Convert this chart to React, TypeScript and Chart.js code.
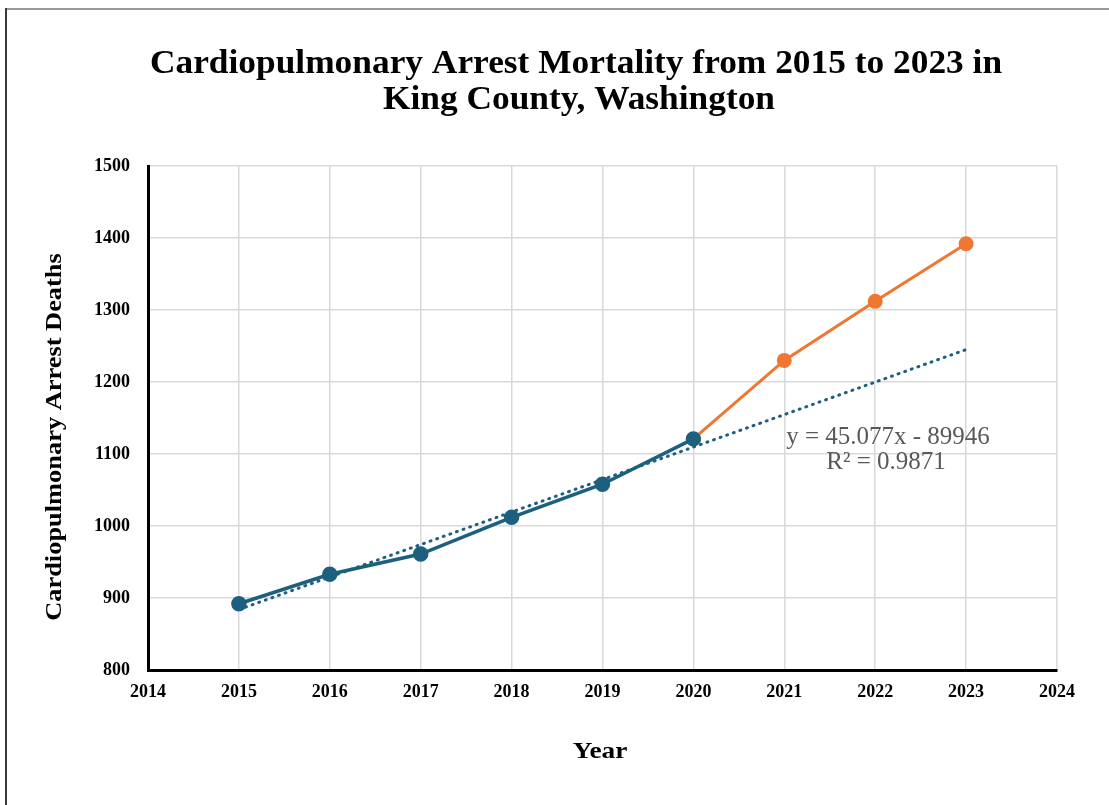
import React, { useEffect, useRef } from "react";
import { Chart, registerables } from "chart.js";

Chart.register(...registerables);

const titleLines = ["Cardiopulmonary Arrest Mortality from 2015 to 2023 in", "King County, Washington"];
const xAxisTitle = "Year";
const yAxisTitle = "Cardiopulmonary Arrest Deaths";
const trendLabel = "y = 45.077x - 89946";
const r2Label = "R² = 0.9871";

const blueYears = [2015, 2016, 2017, 2018, 2019, 2020];
const blueDeaths = [892, 933, 961, 1012, 1058, 1121];
const orangeYears = [2020, 2021, 2022, 2023];
const orangeDeaths = [1121, 1230, 1312, 1392];
const trendYears = [2015, 2023];
const trendDeaths = [884, 1245];

const xMin = 2014;
const xMax = 2024;
const yMin = 800;
const yMax = 1500;

const BLUE = "#1d5f7f";
const ORANGE = "#ef7732";
const SERIF = "'Liberation Serif', 'Times New Roman', serif";

function drawText(ctx: any, text: string, x: number, y: number, sx: number, rot = 0) {
  ctx.save();
  ctx.translate(x, y);
  if (rot) ctx.rotate(rot);
  ctx.scale(sx, 1);
  ctx.fillText(text, 0, 0);
  ctx.restore();
}

const textPlugin = {
  id: "textPlugin",
  beforeDraw(chart: any) {
    const ctx = chart.ctx;
    ctx.save();
    ctx.fillStyle = "#ffffff";
    ctx.fillRect(0, 0, chart.width, chart.height);
    ctx.fillStyle = "#9a9a9a";
    ctx.fillRect(5, 8, chart.width - 5, 2);
    ctx.fillStyle = "#3a3a3a";
    ctx.fillRect(5, 8, 2, chart.height - 8);
    ctx.restore();
  },
  afterDraw(chart: any) {
    const ctx = chart.ctx;
    ctx.save();
    ctx.fillStyle = "#000000";
    ctx.textAlign = "center";
    ctx.textBaseline = "middle";
    ctx.font = `bold 34px ${SERIF}`;
    drawText(ctx, titleLines[0], 576, 64, 1.04);
    drawText(ctx, titleLines[1], 579, 100, 1.04);

    ctx.font = `bold 24px ${SERIF}`;
    drawText(ctx, xAxisTitle, 600, 752, 1.14);
    drawText(ctx, yAxisTitle, 55, 437, 1.1, -Math.PI / 2);

    ctx.fillStyle = "#595959";
    ctx.font = `25px ${SERIF}`;
    drawText(ctx, trendLabel, 888, 437, 1.0);
    drawText(ctx, r2Label, 886, 462, 1.0);
    ctx.restore();
  },
};

export default function App() {
  const ref = useRef<HTMLCanvasElement>(null);
  useEffect(() => {
    if (!ref.current) return;
    const chart = new Chart(ref.current, {
      type: "line",
      data: {
        datasets: [
          {
            label: "Trend",
            data: trendYears.map((x, i) => ({ x, y: trendDeaths[i] })),
            borderColor: BLUE,
            borderWidth: 3,
            borderDash: [1, 6],
            borderCapStyle: "round",
            pointRadius: 0,
            fill: false,
          },
          {
            label: "2015-2020",
            data: blueYears.map((x, i) => ({ x, y: blueDeaths[i] })),
            borderColor: BLUE,
            backgroundColor: BLUE,
            borderWidth: 3.5,
            pointRadius: 6,
            pointBackgroundColor: BLUE,
            pointBorderColor: BLUE,
            fill: false,
          },
          {
            label: "2020-2023",
            data: orangeYears.map((x, i) => ({ x, y: orangeDeaths[i] })),
            borderColor: ORANGE,
            backgroundColor: ORANGE,
            borderWidth: 3,
            pointRadius: (c: any) => (c.dataIndex === 0 ? 0 : 6),
            pointBackgroundColor: ORANGE,
            pointBorderColor: ORANGE,
            fill: false,
          },
        ],
      },
      options: {
        responsive: false,
        animation: false,
        layout: { padding: { left: 0, right: 52, top: 166, bottom: 0 } },
        plugins: { legend: { display: false }, tooltip: { enabled: false }, title: { display: false } },
        scales: {
          x: {
            type: "linear",
            min: xMin,
            max: xMax,
            afterFit: (s: any) => {
              s.height = 135;
            },
            ticks: {
              stepSize: 1,
              callback: (v: any) => String(v),
              color: "#000",
              font: { family: SERIF, size: 18, weight: "bold" },
              padding: 12,
              maxRotation: 0,
            },
            grid: { color: "#d9d9d9", lineWidth: 1.5, drawTicks: false },
            border: { color: "#000", width: 3 },
          },
          y: {
            type: "linear",
            min: yMin,
            max: yMax,
            afterFit: (s: any) => {
              s.width = 148;
            },
            ticks: {
              stepSize: 100,
              callback: (v: any) => String(v),
              color: "#000",
              font: { family: SERIF, size: 18, weight: "bold" },
              padding: 18,
            },
            grid: { color: "#d9d9d9", lineWidth: 1.5, drawTicks: false },
            border: { color: "#000", width: 3 },
          },
        },
      },
      plugins: [textPlugin],
    });
    return () => chart.destroy();
  }, []);
  return (
    <div style={{ position: "absolute", left: 0, top: 0, width: 1109, height: 805, background: "#fff" }}>
      <canvas ref={ref} width={1109} height={805} style={{ display: "block" }} />
    </div>
  );
}
